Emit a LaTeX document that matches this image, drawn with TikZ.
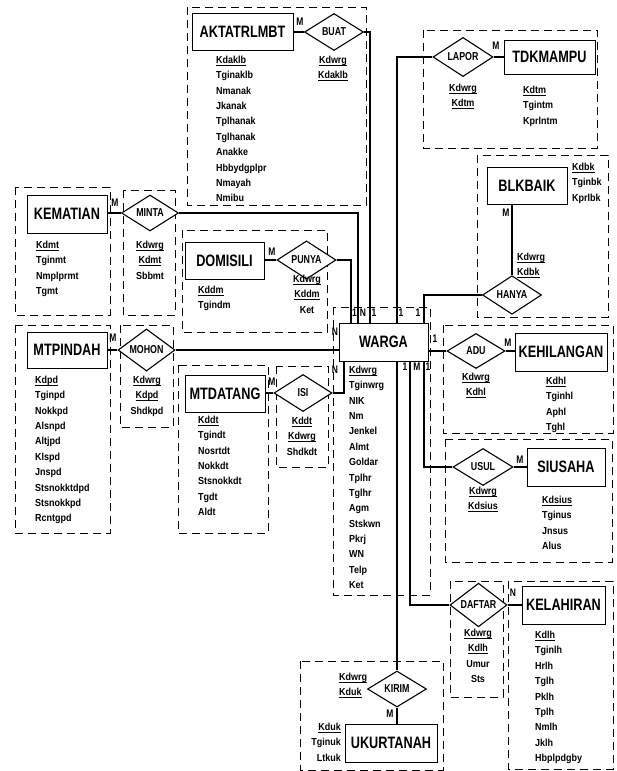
\documentclass[tikz,border=0pt]{standalone}
\usepackage{fontspec}
\setmainfont{Liberation Sans}
\newfontfamily\fattr{Liberation Sans}[FakeStretch=0.88]
\newfontfamily\fnarrow{Liberation Sans}[FakeStretch=0.77]
\usetikzlibrary{shapes.geometric}
\newcommand\ulx[1]{\setbox0\hbox{#1}\rlap{\rule[-1.8pt]{\wd0}{0.8pt}}\box0}
\tikzset{
 ent/.style={draw, fill=white, line width=0.9pt, inner sep=0pt, font=\fnarrow\bfseries\fontsize{16.5}{16.5}\selectfont},
 rel/.style={diamond, draw, fill=white, line width=1.1pt, inner sep=0pt, font=\fnarrow\bfseries\fontsize{11.5}{11.5}\selectfont},
 grp/.style={draw, line width=1pt, dash pattern=on 8pt off 5pt},
 conn/.style={line width=1.8pt},
 attr/.style={inner sep=0pt, align=left, font=\fattr\bfseries\fontsize{10.2}{15.35}\selectfont},
 attrc/.style={inner sep=0pt, align=center, font=\fattr\bfseries\fontsize{10.2}{15.35}\selectfont},
 attrr/.style={inner sep=0pt, align=right, font=\fattr\bfseries\fontsize{10.2}{15.35}\selectfont},
 card/.style={inner sep=0pt, font=\fnarrow\bfseries\fontsize{11}{11}\selectfont},
}
\begin{document}
\begin{tikzpicture}[x=1pt,y=-1pt]
\useasboundingbox (0,0) rectangle (616,771);
% dashed groups
\draw[grp] (187,7) rectangle (366,205);
\draw[grp] (423,30) rectangle (597,148);
\draw[grp] (477,155) rectangle (608,317);
\draw[grp] (15,187) rectangle (110,315);
\draw[grp] (123,190) rectangle (175,315);
\draw[grp] (182,230) rectangle (327,332);
\draw[grp] (333,307) rectangle (430,595);
\draw[grp] (443,325) rectangle (613,433);
\draw[grp] (445,439) rectangle (612,562);
\draw[grp] (15,325) rectangle (110,533);
\draw[grp] (120,325) rectangle (173,427);
\draw[grp] (178,365) rectangle (268,533);
\draw[grp] (276,366) rectangle (328,467);
\draw[grp] (450,581) rectangle (503,697);
\draw[grp] (508,581) rectangle (613,769);
\draw[grp] (300,661) rectangle (443,770);

% entities
\node[ent, minimum width=101, minimum height=37] (akt) at (242.5,31.5) {AKTATRLMBT};
\node[ent, minimum width=91, minimum height=34] (tdk) at (549.5,57) {TDKMAMPU};
\node[ent, minimum width=80, minimum height=38] (kem) at (67,214) {KEMATIAN};
\node[ent, minimum width=79, minimum height=37] (dom) at (224.5,260.5) {DOMISILI};
\node[ent, minimum width=80, minimum height=37] (blk) at (527,185.5) {BLKBAIK};
\node[ent, minimum width=80, minimum height=36] (mtp) at (67,350) {MTPINDAH};
\node[ent, minimum width=89, minimum height=38] (warga) at (383.5,342) {WARGA};
\node[ent, minimum width=80, minimum height=37] (mtd) at (225,393.5) {MTDATANG};
\node[ent, minimum width=92, minimum height=38] (keh) at (561,352) {KEHILANGAN};
\node[ent, minimum width=78, minimum height=38] (siu) at (566,467) {SIUSAHA};
\node[ent, minimum width=83, minimum height=38] (kel) at (563.5,605) {KELAHIRAN};
\node[ent, minimum width=92, minimum height=38] (ukt) at (391,743) {UKURTANAH};

% relationships
\node[rel, minimum width=59, minimum height=37] (buat) at (334,32) {BUAT};
\node[rel, minimum width=60, minimum height=33] (lapor) at (463,57) {LAPOR};
\node[rel, minimum width=57, minimum height=36] (minta) at (150,213) {MINTA};
\node[rel, minimum width=59, minimum height=35] (punya) at (306.5,260) {PUNYA};
\node[rel, minimum width=59, minimum height=36] (hanya) at (512,295) {HANYA};
\node[rel, minimum width=57, minimum height=36] (mohon) at (146.5,350) {MOHON};
\node[rel, minimum width=58, minimum height=35] (adu) at (476,351) {ADU};
\node[rel, minimum width=58, minimum height=37] (isi) at (303,393) {ISI};
\node[rel, minimum width=60, minimum height=37] (usul) at (483,467) {USUL};
\node[rel, minimum width=57, minimum height=36] (daftar) at (478.5,605) {DAFTAR};
\node[rel, minimum width=59, minimum height=36] (kirim) at (397,689) {KIRIM};

% x positions of connector legs at WARGA
\coordinate (xpu) at (351,0);
\coordinate (xm) at (358,0);
\coordinate (xb) at (370,0);
\coordinate (xl) at (397,0);
\coordinate (xd) at (410,0);
\coordinate (xh) at (424,0);
\coordinate (xi) at (344,0);

% connectors
\draw[conn] (buat.west -| akt.east) -- (buat.west);
\draw[conn] (buat.east) -| (xb |- warga.north);
\draw[conn] (lapor.east) -- (lapor.east -| tdk.west);
\draw[conn] (lapor.west) -| (xl |- warga.north);
\draw[conn] (minta.west -| kem.east) -- (minta.west);
\draw[conn] (minta.east) -| (xm |- warga.north);
\draw[conn] (punya.west -| dom.east) -- (punya.west);
\draw[conn] (punya.east) -| (xpu |- warga.north);
\draw[conn] (blk.south -| hanya.north) -- (hanya.north);
\draw[conn] (hanya.west) -| (xh |- warga.north);
\draw[conn] (mohon.west -| mtp.east) -- (mohon.west);
\draw[conn] (mohon.east) -- (mohon.east -| warga.west);
\draw[conn] (isi.west -| mtd.east) -- (isi.west);
\draw[conn] (isi.east) -| (xi |- warga.south);
\draw[conn] (adu.west -| warga.east) -- (adu.west);
\draw[conn] (adu.east) -- (adu.east -| keh.west);
\draw[conn] (xh |- warga.south) |- (usul.west);
\draw[conn] (usul.east) -- (usul.east -| siu.west);
\draw[conn] (xd |- warga.south) |- (daftar.west);
\draw[conn] (daftar.east) -- (daftar.east -| kel.west);
\draw[conn] (xl |- warga.south) -- (kirim.north);
\draw[conn] (kirim.south) -- (kirim.south |- ukt.north);

% cardinalities
\node[card] (c1) at (300,22) {M};
\node[card] (c2) at (496,46) {M};
\node[card] (c3) at (115,203) {M};
\node[card] (c4) at (272,252) {M};
\node[card] (c5) at (506,213) {M};
\node[card] (c6) at (113,338) {M};
\node[card] (c7) at (272,382) {M};
\node[card] (c8) at (508,343) {M};
\node[card] (c9) at (520,460) {M};
\node[card] (c10) at (513,593) {N};
\node[card] (c11) at (390,714) {M};
\node[card] (t1) at (354.5,313) {1};
\node[card] (t2) at (363,313) {N};
\node[card] (t3) at (374,313) {1};
\node[card] (t4) at (401,313) {1};
\node[card] (t5) at (418,313) {1};
\node[card] (l1) at (335,332) {N};
\node[card] (l2) at (335,370) {N};
\node[card] (r1) at (435,339) {1};
\node[card] (b1) at (405,367) {1};
\node[card] (b2) at (417,367) {M};
\node[card] (b3) at (428,367) {1};

% attributes
\node[attr, anchor=north west] (a1) at (216,56) {\ulx{Kdaklb}\\Tginaklb\\Nmanak\\Jkanak\\Tplhanak\\Tglhanak\\Anakke\\Hbbydgplpr\\Nmayah\\Nmibu};
\node[attrc, anchor=north] (a2) at (333,56) {\ulx{Kdwrg}\\\ulx{Kdaklb}};
\node[attrc, anchor=north] (a3) at (463,84) {\ulx{Kdwrg}\\\ulx{Kdtm}};
\node[attr, anchor=north west] (a4) at (523,86) {\ulx{Kdtm}\\Tgintm\\Kprlntm};
\node[attr, anchor=north west] (a5) at (572,163) {\ulx{Kdbk}\\Tginbk\\Kprlbk};
\node[attr, anchor=north west] (a6) at (517,253) {\ulx{Kdwrg}\\\ulx{Kdbk}};
\node[attr, anchor=north west] (a7) at (36,241) {\ulx{Kdmt}\\Tginmt\\Nmplprmt\\Tgmt};
\node[attrc, anchor=north] (a8) at (150,241) {\ulx{Kdwrg}\\\ulx{Kdmt}\\Sbbmt};
\node[attr, anchor=north west] (a9) at (198,286) {\ulx{Kddm}\\Tgindm};
\node[attrc, anchor=north] (a10) at (307,275) {\ulx{Kdwrg}\\\ulx{Kddm}\\Ket};
\node[attr, anchor=north west] (a11) at (35,376) {\ulx{Kdpd}\\Tginpd\\Nokkpd\\Alsnpd\\Altjpd\\Klspd\\Jnspd\\Stsnokktdpd\\Stsnokkpd\\Rcntgpd};
\node[attrc, anchor=north] (a12) at (147,376) {\ulx{Kdwrg}\\\ulx{Kdpd}\\Shdkpd};
\node[attr, anchor=north west] (a13) at (198,416) {\ulx{Kddt}\\Tgindt\\Nosrtdt\\Nokkdt\\Stsnokkdt\\Tgdt\\Aldt};
\node[attrc, anchor=north] (a14) at (302,417) {\ulx{Kddt}\\\ulx{Kdwrg}\\Shdkdt};
\node[attr, anchor=north west] (a15) at (349,366) {\ulx{Kdwrg}\\Tginwrg\\NIK\\Nm\\Jenkel\\Almt\\Goldar\\Tplhr\\Tglhr\\Agm\\Stskwn\\Pkrj\\WN\\Telp\\Ket};
\node[attrc, anchor=north] (a16) at (476,373) {\ulx{Kdwrg}\\\ulx{Kdhl}};
\node[attr, anchor=north west] (a17) at (546,377) {\ulx{Kdhl}\\Tginhl\\Aphl\\Tghl};
\node[attrc, anchor=north] (a18) at (483,487) {\ulx{Kdwrg}\\\ulx{Kdsius}};
\node[attr, anchor=north west] (a19) at (542,496) {\ulx{Kdsius}\\Tginus\\Jnsus\\Alus};
\node[attrc, anchor=north] (a20) at (478,629) {\ulx{Kdwrg}\\\ulx{Kdlh}\\Umur\\Sts};
\node[attr, anchor=north west] (a21) at (535,631) {\ulx{Kdlh}\\Tginlh\\Hrlh\\Tglh\\Pklh\\Tplh\\Nmlh\\Jklh\\Hbplpdgby};
\node[attr, anchor=north west] (a22) at (339,673) {\ulx{Kdwrg}\\\ulx{Kduk}};
\node[attrr, anchor=north east] (a23) at (341,723) {\ulx{Kduk}\\Tginuk\\Ltkuk};
\end{tikzpicture}
\end{document}
